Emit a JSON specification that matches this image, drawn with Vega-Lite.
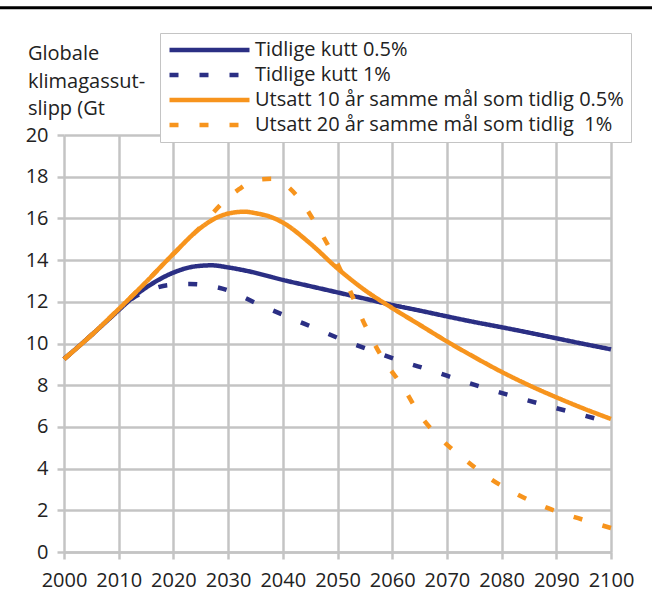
{
  "$schema": "https://vega.github.io/schema/vega-lite/v6.json",
  "width": 547,
  "height": 417,
  "autosize": "none",
  "padding": {"left": 64, "top": 135, "right": 41, "bottom": 63},
  "background": "white",
  "title": {
    "text": ["Globale", "klimagassut-", "slipp (Gt"],
    "anchor": "start",
    "frame": "group",
    "orient": "top",
    "dx": -36,
    "dy": 127,
    "offset": 14,
    "font": "Open Sans",
    "fontSize": 20,
    "fontWeight": "normal",
    "lineHeight": 27.5,
    "color": "#222222"
  },
  "config": {
    "view": {"stroke": null},
    "font": "Open Sans",
    "axis": {
      "grid": true,
      "gridColor": "#c4c4c4",
      "gridWidth": 2.5,
      "domainColor": "#c4c4c4",
      "domainWidth": 2.5,
      "tickColor": "#c4c4c4",
      "tickWidth": 2.5,
      "tickSize": 7,
      "labelFont": "Open Sans",
      "labelFontSize": 20,
      "labelColor": "#222222",
      "title": null
    }
  },
  "layer": [
    {
      "data": {
        "values": [
          {"series": "Tidlige kutt 0.5%", "year": 2000, "value": 9.25},
          {"series": "Tidlige kutt 0.5%", "year": 2005, "value": 10.4},
          {"series": "Tidlige kutt 0.5%", "year": 2010, "value": 11.6},
          {"series": "Tidlige kutt 0.5%", "year": 2013, "value": 12.3},
          {"series": "Tidlige kutt 0.5%", "year": 2016, "value": 12.85},
          {"series": "Tidlige kutt 0.5%", "year": 2020, "value": 13.4},
          {"series": "Tidlige kutt 0.5%", "year": 2024, "value": 13.7},
          {"series": "Tidlige kutt 0.5%", "year": 2027, "value": 13.75},
          {"series": "Tidlige kutt 0.5%", "year": 2030, "value": 13.65},
          {"series": "Tidlige kutt 0.5%", "year": 2034, "value": 13.45},
          {"series": "Tidlige kutt 0.5%", "year": 2040, "value": 13.05},
          {"series": "Tidlige kutt 0.5%", "year": 2045, "value": 12.75},
          {"series": "Tidlige kutt 0.5%", "year": 2050, "value": 12.45},
          {"series": "Tidlige kutt 0.5%", "year": 2055, "value": 12.15},
          {"series": "Tidlige kutt 0.5%", "year": 2060, "value": 11.85},
          {"series": "Tidlige kutt 0.5%", "year": 2065, "value": 11.58},
          {"series": "Tidlige kutt 0.5%", "year": 2070, "value": 11.3},
          {"series": "Tidlige kutt 0.5%", "year": 2075, "value": 11.03},
          {"series": "Tidlige kutt 0.5%", "year": 2080, "value": 10.78},
          {"series": "Tidlige kutt 0.5%", "year": 2085, "value": 10.52},
          {"series": "Tidlige kutt 0.5%", "year": 2090, "value": 10.25},
          {"series": "Tidlige kutt 0.5%", "year": 2095, "value": 9.98},
          {"series": "Tidlige kutt 0.5%", "year": 2100, "value": 9.72},

          {"series": "Tidlige kutt 1%", "year": 2000, "value": 9.25},
          {"series": "Tidlige kutt 1%", "year": 2005, "value": 10.4},
          {"series": "Tidlige kutt 1%", "year": 2010, "value": 11.6},
          {"series": "Tidlige kutt 1%", "year": 2013, "value": 12.25},
          {"series": "Tidlige kutt 1%", "year": 2016, "value": 12.6},
          {"series": "Tidlige kutt 1%", "year": 2019, "value": 12.8},
          {"series": "Tidlige kutt 1%", "year": 2023, "value": 12.85},
          {"series": "Tidlige kutt 1%", "year": 2027, "value": 12.75},
          {"series": "Tidlige kutt 1%", "year": 2030, "value": 12.55},
          {"series": "Tidlige kutt 1%", "year": 2035, "value": 11.95},
          {"series": "Tidlige kutt 1%", "year": 2040, "value": 11.38},
          {"series": "Tidlige kutt 1%", "year": 2046, "value": 10.72},
          {"series": "Tidlige kutt 1%", "year": 2051, "value": 10.17},
          {"series": "Tidlige kutt 1%", "year": 2056, "value": 9.68},
          {"series": "Tidlige kutt 1%", "year": 2062, "value": 9.12},
          {"series": "Tidlige kutt 1%", "year": 2067, "value": 8.72},
          {"series": "Tidlige kutt 1%", "year": 2073, "value": 8.19},
          {"series": "Tidlige kutt 1%", "year": 2078, "value": 7.78},
          {"series": "Tidlige kutt 1%", "year": 2084, "value": 7.33},
          {"series": "Tidlige kutt 1%", "year": 2090, "value": 6.9},
          {"series": "Tidlige kutt 1%", "year": 2095, "value": 6.55},
          {"series": "Tidlige kutt 1%", "year": 2100, "value": 6.2},

          {"series": "Utsatt 10 år samme mål som tidlig 0.5%", "year": 2000, "value": 9.25},
          {"series": "Utsatt 10 år samme mål som tidlig 0.5%", "year": 2005, "value": 10.4},
          {"series": "Utsatt 10 år samme mål som tidlig 0.5%", "year": 2010, "value": 11.65},
          {"series": "Utsatt 10 år samme mål som tidlig 0.5%", "year": 2015, "value": 12.95},
          {"series": "Utsatt 10 år samme mål som tidlig 0.5%", "year": 2020, "value": 14.3},
          {"series": "Utsatt 10 år samme mål som tidlig 0.5%", "year": 2025, "value": 15.55},
          {"series": "Utsatt 10 år samme mål som tidlig 0.5%", "year": 2028, "value": 16.05},
          {"series": "Utsatt 10 år samme mål som tidlig 0.5%", "year": 2031, "value": 16.28},
          {"series": "Utsatt 10 år samme mål som tidlig 0.5%", "year": 2033, "value": 16.32},
          {"series": "Utsatt 10 år samme mål som tidlig 0.5%", "year": 2035, "value": 16.25},
          {"series": "Utsatt 10 år samme mål som tidlig 0.5%", "year": 2038, "value": 16.05},
          {"series": "Utsatt 10 år samme mål som tidlig 0.5%", "year": 2040, "value": 15.8},
          {"series": "Utsatt 10 år samme mål som tidlig 0.5%", "year": 2045, "value": 14.8},
          {"series": "Utsatt 10 år samme mål som tidlig 0.5%", "year": 2050, "value": 13.6},
          {"series": "Utsatt 10 år samme mål som tidlig 0.5%", "year": 2055, "value": 12.56},
          {"series": "Utsatt 10 år samme mål som tidlig 0.5%", "year": 2060, "value": 11.7},
          {"series": "Utsatt 10 år samme mål som tidlig 0.5%", "year": 2065, "value": 10.9},
          {"series": "Utsatt 10 år samme mål som tidlig 0.5%", "year": 2070, "value": 10.1},
          {"series": "Utsatt 10 år samme mål som tidlig 0.5%", "year": 2075, "value": 9.35},
          {"series": "Utsatt 10 år samme mål som tidlig 0.5%", "year": 2080, "value": 8.64},
          {"series": "Utsatt 10 år samme mål som tidlig 0.5%", "year": 2085, "value": 8.0},
          {"series": "Utsatt 10 år samme mål som tidlig 0.5%", "year": 2090, "value": 7.42},
          {"series": "Utsatt 10 år samme mål som tidlig 0.5%", "year": 2095, "value": 6.88},
          {"series": "Utsatt 10 år samme mål som tidlig 0.5%", "year": 2100, "value": 6.38},

          {"series": "Utsatt 20 år samme mål som tidlig  1%", "year": 2000, "value": 9.25},
          {"series": "Utsatt 20 år samme mål som tidlig  1%", "year": 2005, "value": 10.4},
          {"series": "Utsatt 20 år samme mål som tidlig  1%", "year": 2010, "value": 11.65},
          {"series": "Utsatt 20 år samme mål som tidlig  1%", "year": 2015, "value": 12.95},
          {"series": "Utsatt 20 år samme mål som tidlig  1%", "year": 2020, "value": 14.3},
          {"series": "Utsatt 20 år samme mål som tidlig  1%", "year": 2025, "value": 15.6},
          {"series": "Utsatt 20 år samme mål som tidlig  1%", "year": 2029, "value": 16.75},
          {"series": "Utsatt 20 år samme mål som tidlig  1%", "year": 2032, "value": 17.4},
          {"series": "Utsatt 20 år samme mål som tidlig  1%", "year": 2035, "value": 17.85},
          {"series": "Utsatt 20 år samme mål som tidlig  1%", "year": 2038, "value": 17.9},
          {"series": "Utsatt 20 år samme mål som tidlig  1%", "year": 2040, "value": 17.7},
          {"series": "Utsatt 20 år samme mål som tidlig  1%", "year": 2043, "value": 16.95},
          {"series": "Utsatt 20 år samme mål som tidlig  1%", "year": 2046, "value": 15.75},
          {"series": "Utsatt 20 år samme mål som tidlig  1%", "year": 2049, "value": 14.35},
          {"series": "Utsatt 20 år samme mål som tidlig  1%", "year": 2052, "value": 12.7},
          {"series": "Utsatt 20 år samme mål som tidlig  1%", "year": 2055, "value": 10.9},
          {"series": "Utsatt 20 år samme mål som tidlig  1%", "year": 2058, "value": 9.4},
          {"series": "Utsatt 20 år samme mål som tidlig  1%", "year": 2062, "value": 7.9},
          {"series": "Utsatt 20 år samme mål som tidlig  1%", "year": 2065, "value": 6.6},
          {"series": "Utsatt 20 år samme mål som tidlig  1%", "year": 2069, "value": 5.4},
          {"series": "Utsatt 20 år samme mål som tidlig  1%", "year": 2073, "value": 4.5},
          {"series": "Utsatt 20 år samme mål som tidlig  1%", "year": 2078, "value": 3.5},
          {"series": "Utsatt 20 år samme mål som tidlig  1%", "year": 2083, "value": 2.75},
          {"series": "Utsatt 20 år samme mål som tidlig  1%", "year": 2088, "value": 2.15},
          {"series": "Utsatt 20 år samme mål som tidlig  1%", "year": 2094, "value": 1.62},
          {"series": "Utsatt 20 år samme mål som tidlig  1%", "year": 2100, "value": 1.15}
        ]
      },
      "mark": {"type": "line", "interpolate": "monotone", "strokeWidth": 4.5, "clip": false},
      "encoding": {
        "x": {
          "field": "year",
          "type": "quantitative",
          "scale": {"domain": [2000, 2100], "nice": false, "zero": false},
          "axis": {
            "grid": true,
            "values": [2000, 2010, 2020, 2030, 2040, 2050, 2060, 2070, 2080, 2090, 2100],
            "format": "d",
            "labelPadding": 11,
            "labelFlush": false
          }
        },
        "y": {
          "field": "value",
          "type": "quantitative",
          "scale": {"domain": [0, 20], "nice": false},
          "axis": {
            "grid": true,
            "values": [0, 2, 4, 6, 8, 10, 12, 14, 16, 18, 20],
            "labelPadding": 9,
            "domain": false
          }
        },
        "color": {
          "field": "series",
          "type": "nominal",
          "scale": {
            "domain": ["Tidlige kutt 0.5%", "Tidlige kutt 1%", "Utsatt 10 år samme mål som tidlig 0.5%", "Utsatt 20 år samme mål som tidlig  1%"],
            "range": ["#2b2f84", "#2b2f84", "#f7941d", "#f7941d"]
          },
          "legend": {
            "title": null,
            "orient": "none",
            "legendX": 96,
            "legendY": -102,
            "fillColor": "white",
            "strokeColor": "#c4c4c4",
            "padding": 7,
            "symbolType": "stroke",
            "symbolSize": 6400,
            "symbolStrokeWidth": 4.5,
            "clipHeight": 20,
            "labelFont": "Open Sans",
            "labelFontSize": 20,
            "labelColor": "#222222",
            "labelLimit": 0,
            "labelOffset": 3,
            "rowPadding": 5,
            "labelExpr": "replace(datum.label, '  ', ' \u00a0')"
          }
        },
        "strokeDash": {
          "field": "series",
          "type": "nominal",
          "scale": {
            "domain": ["Tidlige kutt 0.5%", "Tidlige kutt 1%", "Utsatt 10 år samme mål som tidlig 0.5%", "Utsatt 20 år samme mål som tidlig  1%"],
            "range": [[1, 0], [9, 21], [1, 0], [9, 21]]
          }
        }
      }
    },
    {
      "data": {"values": [{}]},
      "mark": {"type": "rule", "clip": false, "color": "black", "strokeWidth": 3},
      "encoding": {
        "x": {"datum": 1985, "type": "quantitative"},
        "x2": {"datum": 2110},
        "y": {"datum": 26.1, "type": "quantitative"}
      }
    }
  ]
}
